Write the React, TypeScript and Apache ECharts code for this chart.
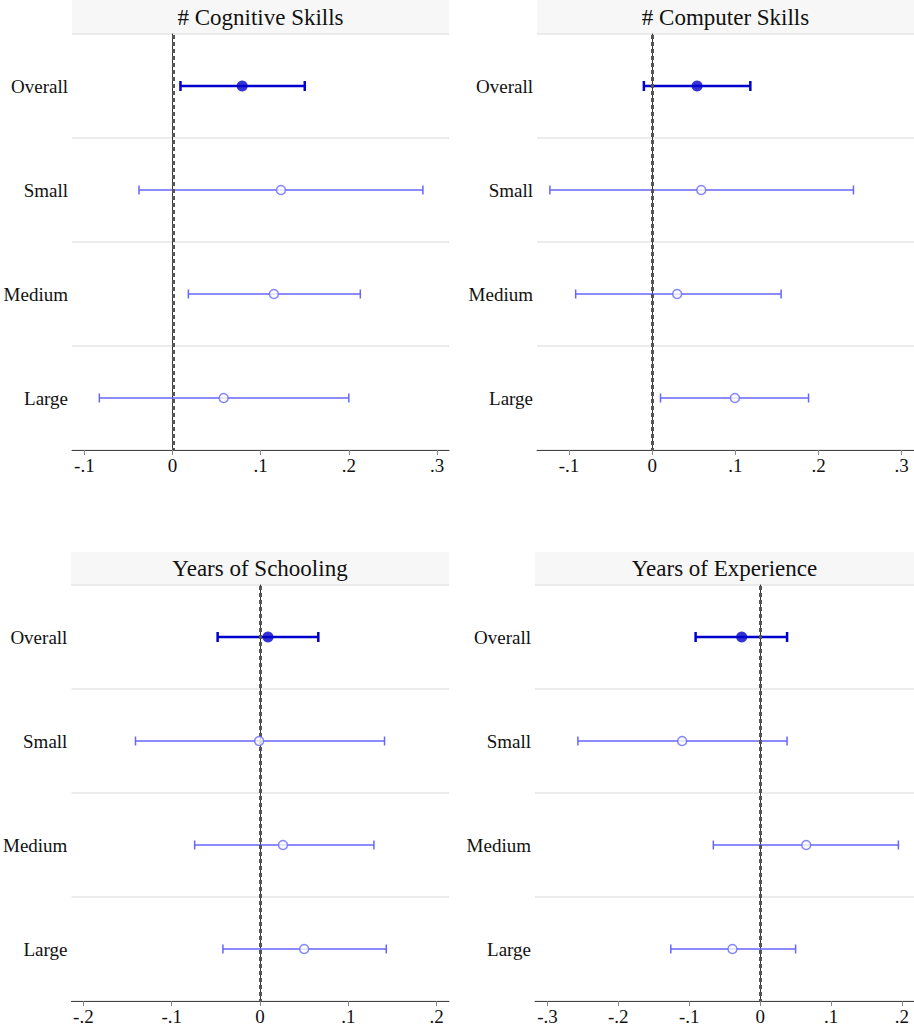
import React, { useEffect, useRef } from "react";
import * as echarts from "echarts";

const categories = ["Overall", "Small", "Medium", "Large"];
const panelTitles = ["# Cognitive Skills", "# Computer Skills", "Years of Schooling", "Years of Experience"];

const cogEst = [0.079, 0.123, 0.115, 0.058];
const cogLo = [0.009, -0.038, 0.018, -0.083];
const cogHi = [0.150, 0.284, 0.213, 0.200];

const compEst = [0.054, 0.059, 0.030, 0.0995];
const compLo = [-0.010, -0.123, -0.092, 0.010];
const compHi = [0.118, 0.242, 0.155, 0.188];

const schEst = [0.009, -0.001, 0.026, 0.050];
const schLo = [-0.048, -0.141, -0.074, -0.042];
const schHi = [0.066, 0.141, 0.129, 0.143];

const expEst = [-0.026, -0.110, 0.065, -0.039];
const expLo = [-0.091, -0.257, -0.066, -0.126];
const expHi = [0.038, 0.038, 0.195, 0.050];

const xTicks1 = [-0.1, 0, 0.1, 0.2, 0.3];
const xTicks2 = [-0.1, 0, 0.1, 0.2, 0.3];
const xTicks3 = [-0.2, -0.1, 0, 0.1, 0.2];
const xTicks4 = [-0.3, -0.2, -0.1, 0, 0.1, 0.2];

const panels = [
  { est: cogEst, lo: cogLo, hi: cogHi, ticks: xTicks1, min: -0.114, max: 0.3136 },
  { est: compEst, lo: compLo, hi: compHi, ticks: xTicks2, min: -0.1385, max: 0.3148 },
  { est: schEst, lo: schLo, hi: schHi, ticks: xTicks3, min: -0.2136, max: 0.214 },
  { est: expEst, lo: expLo, hi: expHi, ticks: xTicks4, min: -0.3175, max: 0.217 },
];

const grids = [
  { left: 72, top: 34, width: 377, height: 416 },
  { left: 537, top: 34, width: 377, height: 416 },
  { left: 71, top: 585, width: 378, height: 416 },
  { left: 535, top: 585, width: 379, height: 416 },
];
const titleBoxes = [
  { x: 72, y: 0, w: 377, h: 34 },
  { x: 537, y: 0, w: 377, h: 34 },
  { x: 71, y: 552, w: 378, h: 33 },
  { x: 535, y: 552, w: 379, h: 33 },
];

const FONT = "Liberation Serif";
const DARK = "#0000cc";
const LIGHT = "#6666ff";

function fmt(v: number): string {
  if (Math.abs(v) < 1e-9) return "0";
  const s = v.toFixed(1);
  return s.replace("0.", ".");
}

export default function App() {
  const ref = useRef<HTMLDivElement>(null);
  useEffect(() => {
    document.body.style.margin = "0";
    if (!ref.current) return;
    const chart = echarts.init(ref.current, null, { renderer: "svg" });
    const series: any[] = [];
    const xAxis: any[] = [];
    const yAxis: any[] = [];
    const graphic: any[] = [];

    panels.forEach((p, i) => {
      xAxis.push({
        type: "value",
        gridIndex: i,
        min: p.min,
        max: p.max,
        splitLine: { show: false },
        axisLine: { show: true, lineStyle: { color: "#444", width: 1 } },
        axisTick: { show: true, length: 5, lineStyle: { color: "#888" }, customValues: p.ticks },
        axisLabel: {
          customValues: p.ticks,
          formatter: (v: number) => fmt(v),
          fontFamily: FONT,
          fontSize: 19,
          color: "#111",
          margin: 6,
        },
      });
      yAxis.push({
        type: "category",
        gridIndex: i,
        data: categories,
        inverse: true,
        axisLine: { show: true, lineStyle: { color: "#333", width: 1 } },
        axisTick: { show: false },
        splitLine: { show: true, lineStyle: { color: "#e6e6e6", width: 1.5 } },
        axisLabel: { fontFamily: FONT, fontSize: 19, color: "#111", margin: 4 },
      });
      // zero reference line, drawn as short dashes
      series.push({
        type: "custom",
        xAxisIndex: i,
        yAxisIndex: i,
        z: 4,
        silent: true,
        data: [[0, 0]],
        renderItem: (params: any, api: any) => {
          const cs = params.coordSys;
          const x = Math.round(api.coord([api.value(0), 0])[0]) + 0.5;
          const children: any[] = [];
          const dash = 4;
          const gap = 3;
          for (let y = cs.y + 1; y < cs.y + cs.height; y += dash + gap) {
            const y2 = Math.min(y + dash, cs.y + cs.height);
            children.push({
              type: "rect",
              shape: { x: x - 1.5, y, width: 3, height: y2 - y },
              style: { fill: "#555" },
            });
          }
          return { type: "group", children };
        },
      });
      const ciData = categories.map((_, k) => [p.lo[k], p.hi[k], k]);
      series.push({
        type: "custom",
        xAxisIndex: i,
        yAxisIndex: i,
        z: 3,
        data: ciData,
        renderItem: (params: any, api: any) => {
          const lo = api.value(0);
          const hi = api.value(1);
          const k = api.value(2);
          const a = api.coord([lo, k]);
          const b = api.coord([hi, k]);
          const isO = k === 0;
          const col = isO ? DARK : LIGHT;
          const w = isO ? 2.5 : 1.5;
          const hh = isO ? 5 : 4.5;
          const style = { stroke: col, lineWidth: w, fill: "none" };
          return {
            type: "group",
            children: [
              { type: "line", shape: { x1: a[0], y1: a[1], x2: b[0], y2: b[1] }, style },
              { type: "line", shape: { x1: a[0], y1: a[1] - hh, x2: a[0], y2: a[1] + hh }, style },
              { type: "line", shape: { x1: b[0], y1: b[1] - hh, x2: b[0], y2: b[1] + hh }, style },
            ],
          };
        },
      });
      series.push({
        type: "scatter",
        xAxisIndex: i,
        yAxisIndex: i,
        z: 5,
        data: categories.map((c, k) =>
          k === 0
            ? { value: [p.est[k], k], symbol: "circle", symbolSize: 11, itemStyle: { color: DARK } }
            : {
                value: [p.est[k], k],
                symbol: "circle",
                symbolSize: 9,
                itemStyle: { color: "#fff", borderColor: LIGHT, borderWidth: 1.5 },
              }
        ),
      });
      const tb = titleBoxes[i];
      graphic.push({
        type: "rect",
        shape: { x: tb.x, y: tb.y, width: tb.w, height: tb.h },
        style: { fill: "#f7f7f7" },
        silent: true,
      });
      graphic.push({
        type: "text",
        x: tb.x + tb.w / 2,
        y: tb.y + tb.h / 2,
        style: {
          text: panelTitles[i],
          fontFamily: FONT,
          fontSize: 23,
          fill: "#111",
          align: "center",
          verticalAlign: "middle",
        },
        silent: true,
      });
    });

    chart.setOption({
      animation: false,
      backgroundColor: "#fff",
      grid: grids.map((g) => ({ ...g, containLabel: false })),
      xAxis,
      yAxis,
      series,
      graphic,
    });
    return () => chart.dispose();
  }, []);
  return <div ref={ref} style={{ width: 914, height: 1034 }} />;
}
